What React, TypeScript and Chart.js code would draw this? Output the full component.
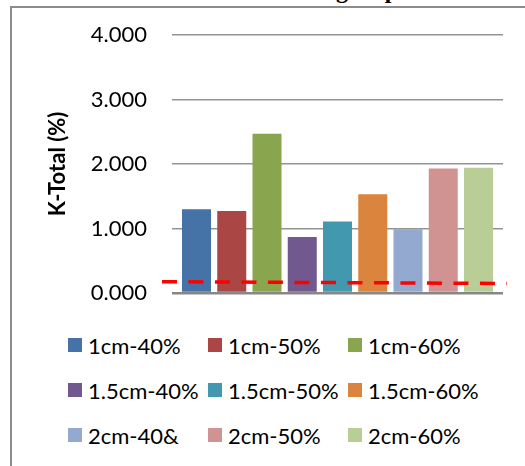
import React, { useEffect, useRef } from "react";
import { Chart, registerables } from "chart.js";

Chart.register(...registerables);

const categories = [
  "1cm-40%", "1cm-50%", "1cm-60%",
  "1.5cm-40%", "1.5cm-50%", "1.5cm-60%",
  "2cm-40&", "2cm-50%", "2cm-60%",
];
const kTotal = [1.30, 1.27, 2.47, 0.87, 1.11, 1.53, 0.99, 1.93, 1.94];
const barColors = [
  "#4572A7", "#AA4643", "#89A54E",
  "#71588F", "#4198AF", "#DB843D",
  "#93A9CF", "#D19392", "#B9CD96",
];
const yTicks = [0, 1, 2, 3, 4];
// red dashed reference line: [x (category index units), y value]
const thresholdX = [-0.98, 8.81];
const thresholdY = [0.175, 0.148];
const titleText = "K-Total with Tiling Gap";
const yTitle = "K-Total (%)";

export default function App() {
  const ref = useRef<HTMLCanvasElement | null>(null);

  useEffect(() => {
    if (!ref.current) return;
    const chart = new Chart(ref.current, {
      type: "bar",
      data: {
        datasets: [
          {
            type: "line",
            data: thresholdX.map((x, i) => ({ x, y: thresholdY[i] })),
            borderColor: "#FF0000",
            borderWidth: 3.5,
            borderDash: [15, 11.5],
            borderCapStyle: "butt",
            pointRadius: 0,
            fill: false,
            tension: 0,
            clip: false,
            order: 0,
          } as any,
          {
            type: "bar",
            data: kTotal.map((v, i) => ({ x: i, y: v })),
            backgroundColor: barColors,
            borderWidth: 0,
            barPercentage: 0.823,
            categoryPercentage: 1,
            order: 1,
          } as any,
        ],
      },
      options: {
        animation: false,
        responsive: false,
        layout: { padding: { left: 30, right: 22, top: 35, bottom: 27 } },
        plugins: { legend: { display: false }, tooltip: { enabled: false } },
        scales: {
          x: {
            type: "linear",
            display: false,
            offset: false,
            min: -0.695,
            max: 8.695,
          },
          y: {
            min: 0,
            max: 4,
            afterBuildTicks: (s: any) => {
              s.ticks = yTicks.map((v) => ({ value: v }));
            },
            afterFit: (s: any) => {
              s.width = 142;
            },
            border: { display: false },
            grid: {
              drawTicks: true,
              tickLength: 25,
              tickColor: "rgba(0,0,0,0)",
              color: (c: any) => (c.tick && c.tick.value === 0 ? "#878787" : "#939393"),
              lineWidth: (c: any) => (c.tick && c.tick.value === 0 ? 2.5 : 1.4),
            },
            ticks: {
              padding: 0,
              color: "#000",
              font: { family: "Lato", size: 22 },
              callback: (v: any) => Number(v).toFixed(3),
            },
            title: {
              display: true,
              text: yTitle,
              color: "#000",
              font: { family: "Lato", size: 22, weight: "bold" },
              padding: { top: 15, bottom: 0 },
            },
          },
        },
      },
    });
    return () => chart.destroy();
  }, []);

  return (
    <div
      style={{
        position: "absolute",
        left: 0,
        top: 0,
        width: 525,
        height: 466,
        overflow: "hidden",
        background: "#fff",
      }}
    >
      <div
        style={{
          position: "absolute",
          left: 151,
          top: -22,
          fontFamily: "'Liberation Serif', 'Times New Roman', serif",
          fontWeight: "bold",
          fontSize: 24,
          lineHeight: "24px",
          whiteSpace: "nowrap",
          color: "#000",
        }}
      >
        {titleText}
      </div>
      <div style={{ position: "absolute", left: 10, top: 6, width: 515, height: 2, background: "#8c8c8c" }} />
      <div style={{ position: "absolute", left: 10, top: 6, width: 2, height: 470, background: "#8c8c8c" }} />
      <canvas ref={ref} width={525} height={320} style={{ position: "absolute", left: 0, top: 0 }} />
      {categories.map((c, i) => {
        const col = i % 3;
        const row = Math.floor(i / 3);
        return (
          <div
            key={c}
            style={{
              position: "absolute",
              left: 68 + col * 140,
              top: 345 + row * 45 - 15,
              height: 30,
              display: "flex",
              alignItems: "center",
              whiteSpace: "nowrap",
              fontFamily: "Lato",
              fontSize: 22,
              color: "#000",
            }}
          >
            <span style={{ display: "inline-block", width: 14, height: 14, background: barColors[i], marginRight: 6 }} />
            <span>{c}</span>
          </div>
        );
      })}
    </div>
  );
}
